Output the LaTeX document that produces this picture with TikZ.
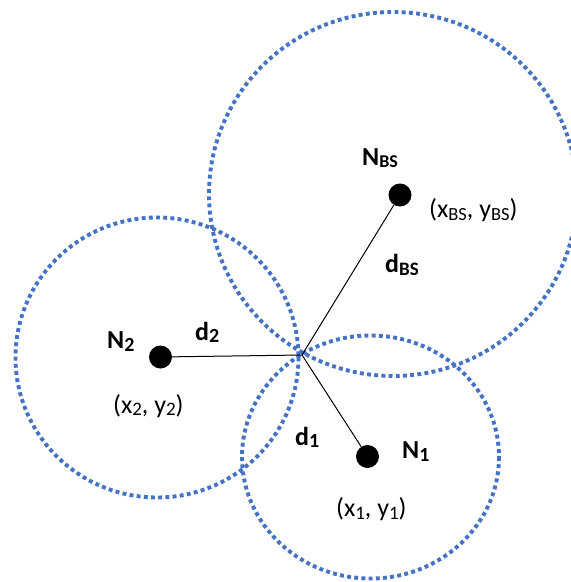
\documentclass[tikz,border=0pt]{standalone}
\usepackage{fontspec}
\setmainfont{Carlito}
\definecolor{zoneblue}{RGB}{68,114,196}
\newcommand{\lowsub}[2]{\raisebox{-0.1em}{\fontsize{#1}{#1}\selectfont #2}}
\begin{document}
\begin{tikzpicture}[x=1pt,y=-1pt,
  zone/.style={draw=zoneblue, line width=3.9pt, dash pattern=on 3.9pt off 3.3pt},
  nodedot/.style={circle, fill=black, minimum size=23pt, inner sep=0pt},
  link/.style={draw=black, line width=1pt},
  lbl/.style={font=\bfseries\fontsize{26}{26}\selectfont, inner sep=0pt, anchor=base west},
  crd/.style={font=\fontsize{26}{26}\selectfont, inner sep=0pt, anchor=base west}]
\useasboundingbox (0,0) rectangle (571,582);
\clip (0,0) rectangle (571,582);
% coverage zones
\draw[zone] (393,194) ellipse [x radius=184, y radius=182];
\draw[zone] (157,357.5) ellipse [x radius=141.5, y radius=140];
\draw[zone] (370.5,457) ellipse [x radius=128.5, y radius=121.5];
% nodes
\coordinate (P) at (302,355);
\node[nodedot] (nbs) at (400,195) {};
\node[nodedot] (n2) at (160.5,357) {};
\node[nodedot] (n1) at (367.5,456.5) {};
% links
\draw[link] (P) -- (nbs);
\draw[link] (P) -- (n2);
\draw[link] (P) -- (n1);
% labels
\node[lbl] (lnbs) at (362,165) {N\lowsub{18}{BS}};
\node[crd] (cbs) at (429,217.5) {(x\lowsub{18.5}{BS}, y\lowsub{18.5}{BS})};
\node[lbl] (ldbs) at (385,272.5) {d\lowsub{19}{BS}};
\node[lbl] (ln2) at (107,348.5) {N\lowsub{20}{2}};
\node[lbl] (ld2) at (195,340) {d\lowsub{20}{2}};
\node[crd] (c2) at (113,413) {(x\lowsub{19}{2}, y\lowsub{19}{2})};
\node[lbl] (ld1) at (295,445) {d\lowsub{20}{1}};
\node[lbl] (ln1) at (402,458.5) {N\lowsub{20}{1}};
\node[crd] (c1) at (336,516.5) {(x\lowsub{19}{1}, y\lowsub{19}{1})};
\end{tikzpicture}
\end{document}
